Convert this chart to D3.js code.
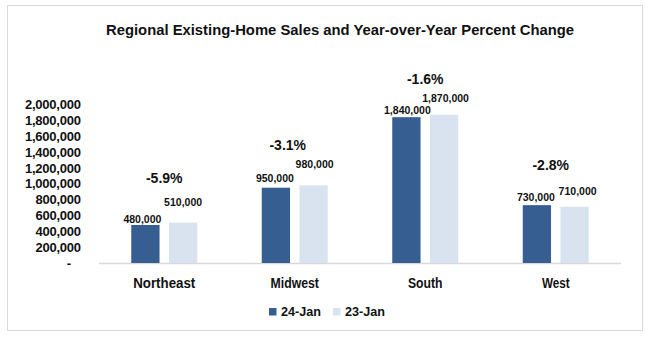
<!DOCTYPE html>
<html><head><meta charset="utf-8">
<script src="https://cdn.jsdelivr.net/npm/d3@7"></script>
<style>body{margin:0;background:#fff;}svg{display:block;font-family:"Liberation Sans",Arial,sans-serif;font-weight:bold;}</style>
</head><body>
<svg id="c" width="650" height="337"></svg>
<script>
const regions = ["Northeast","Midwest","South","West"];
const series = ["24-Jan","23-Jan"];
const sales24 = [480000, 950000, 1840000, 730000];
const sales23 = [510000, 980000, 1870000, 710000];
const pctChange = ["-5.9%","-3.1%","-1.6%","-2.8%"];
const yTicks = [0,200000,400000,600000,800000,1000000,1200000,1400000,1600000,1800000,2000000];
const colors = ["#365e91","#d9e3f0"];

const svg = d3.select("#c");
svg.append("rect").attr("x",7.5).attr("y",5.5).attr("width",635).attr("height",325)
  .attr("fill","#fff").attr("stroke","#d9d9d9");

svg.append("text").attr("x",340).attr("y",35).attr("text-anchor","middle")
  .attr("font-size",15.5).attr("fill","#111")
  .attr("textLength",468).attr("lengthAdjust","spacingAndGlyphs")
  .text("Regional Existing-Home Sales and Year-over-Year Percent Change");

const x = d3.scaleBand().domain(regions).range([99,621]);
const y = d3.scaleLinear().domain([0,2000000]).range([263,104.5]);
const xs = d3.scaleBand().domain(series).range([0,66]).paddingInner(0.25);

const fmt = d3.format(",");
const ya = svg.append("g").attr("transform","translate(81,0)")
  .call(d3.axisLeft(y).tickValues(yTicks).tickSize(0).tickPadding(0)
    .tickFormat(d => d===0 ? "-" : fmt(d)));
ya.select(".domain").remove();
ya.selectAll("text").attr("font-size",13).attr("fill","#111")
  .attr("font-family",'"Liberation Sans",Arial,sans-serif').attr("font-weight","bold");
ya.selectAll("text").filter(d=>d!==0).attr("textLength",function(){return this.getComputedTextLength()*0.97;});
ya.selectAll("text").filter(d=>d===0).attr("dx",-10);

svg.append("line").attr("x1",99).attr("x2",621).attr("y1",263.5).attr("y2",263.5)
  .attr("stroke","#d9d9d9").attr("stroke-width",1.5);

const data = regions.map((r,i)=>({r, vals:[sales24[i],sales23[i]], pct:pctChange[i]}));
const g = svg.append("g");
data.forEach((d,i)=>{
  const gx = x(d.r) + (x.bandwidth()-66)/2;
  d.vals.forEach((v,j)=>{
    g.append("rect").attr("x",gx+xs(series[j])).attr("y",y(v))
      .attr("width",xs.bandwidth()).attr("height",y(0)-y(v)).attr("fill",colors[j]);
  });
});

const off24 = [[-3,-6],[-1,-9.5],[1,-6.5],[-1,-7.5]];
const off23 = [[0,-20],[1,-21],[1.5,-16],[3,-15]];
data.forEach((d,i)=>{
  const gx = x(d.r) + (x.bandwidth()-66)/2;
  [off24,off23].forEach((off,j)=>{
    const bx = gx + xs(series[j]) + xs.bandwidth()/2;
    g.append("text").attr("x",bx+off[i][0]).attr("y",y(d.vals[j])+off[i][1])
      .attr("text-anchor","middle").attr("font-size",10.5).attr("fill","#111")
      .attr("dy","0.35em").text(fmt(d.vals[j]));
  });
});

const pctY = [178,145,79,165];
const pctDx = [0,-7,0,-5];
data.forEach((d,i)=>{
  svg.append("text").attr("x",x(d.r)+x.bandwidth()/2+pctDx[i]).attr("y",pctY[i]).attr("dy","0.35em")
    .attr("text-anchor","middle").attr("font-size",14).attr("fill","#111").text(d.pct);
});

regions.forEach(r=>{
  svg.append("text").attr("x",x(r)+x.bandwidth()/2).attr("y",283).attr("dy","0.35em")
    .attr("text-anchor","middle").attr("font-size",14).attr("fill","#111")
    .attr("textLength", r.length*6.9).attr("lengthAdjust","spacingAndGlyphs").text(r);
});

const lg = svg.append("g");
const lx = [269,333];
series.forEach((s,j)=>{
  lg.append("rect").attr("x",lx[j]).attr("y",308).attr("width",7.5).attr("height",7.5).attr("fill",colors[j]);
  lg.append("text").attr("x",lx[j]+12).attr("y",311.5).attr("dy","0.35em")
    .attr("font-size",13.5).attr("fill","#111")
    .attr("textLength",40).attr("lengthAdjust","spacingAndGlyphs").text(s);
});
</script>
</body></html>
